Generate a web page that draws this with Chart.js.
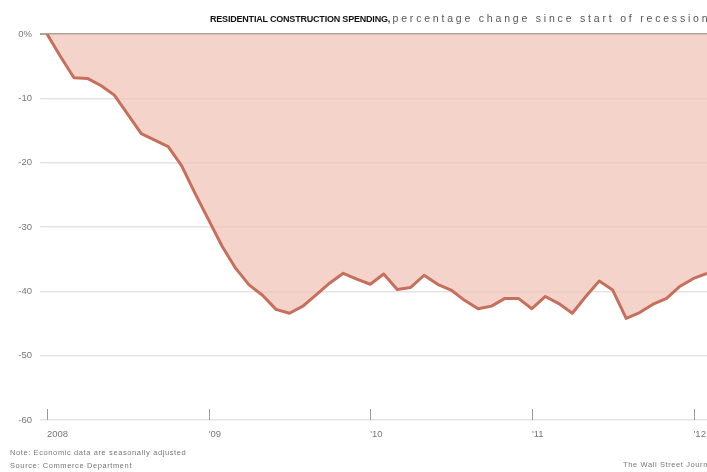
<!DOCTYPE html>
<html>
<head>
<meta charset="utf-8">
<script src="https://cdn.jsdelivr.net/npm/chart.js@4.4.0/dist/chart.umd.min.js"></script>
<style>
  html, body { margin: 0; padding: 0; background: #fff; }
  #wrap { position: relative; width: 707px; height: 472px; overflow: hidden; font-family: "Liberation Sans", Arial, sans-serif; }
  #chartBox { position: absolute; left: 0; top: 0; width: 707px; height: 472px; }
  .title { position: absolute; left: 210px; top: 12px; white-space: nowrap; font-size: 9px; color: #333; }
  .title b { color: #111; letter-spacing: -0.2px; }
  .title span { color: #555; letter-spacing: 2.8px; font-size: 10.5px; }
  .note { position: absolute; left: 10px; font-size: 7.5px; color: #777; white-space: nowrap; letter-spacing: 0.6px; }
  .credit { position: absolute; right: -8px; top: 460px; font-size: 7.5px; color: #777; white-space: nowrap; letter-spacing: 0.6px; }
</style>
</head>
<body>
<div id="wrap">
  <div id="chartBox"><canvas id="spendChart"></canvas></div>
  <div class="title"><b>RESIDENTIAL CONSTRUCTION SPENDING,</b> <span>percentage change since start of recession</span></div>
  <div class="note" style="top:448px">Note: Economic data are seasonally adjusted</div>
  <div class="note" style="top:461px">Source: Commerce Department</div>
  <div class="credit">The Wall Street Journal</div>
</div>
<script>
// tick labels for January of each year
var yearLabels = ['2008', "'09", "'10", "'11", "'12"]

// percentage change since start of recession, monthly from Jan 2008
var spending = [
  0, -3.5, -6.8, -6.9, -8.0, -9.5, -12.5, -15.5, -16.5, -17.5, -20.5, -24.8,
  -28.9, -33.0, -36.4, -39.0, -40.6, -42.8, -43.4, -42.3, -40.5, -38.7, -37.2, -38.1,
  -38.9, -37.3, -39.7, -39.4, -37.5, -38.9, -39.8, -41.4, -42.7, -42.3, -41.1, -41.1,
  -42.7, -40.8, -41.9, -43.4, -40.8, -38.4, -39.8, -44.2, -43.3, -42.0, -41.1, -39.2,
  -38.0, -37.2
]

var monthLabels = []
for (var i = 0; i < spending.length; i++) {
  monthLabels.push(i % 12 === 0 ? yearLabels[i / 12] : '')
}

const lineColor = '#c66f5c'
const fillColor = 'rgba(240, 196, 182, 0.72)'

// little year ticks that rise from the bottom line
var yearTicks = {
  id: 'yearTicks',
  afterDatasetsDraw: function(chart) {
    var ctx = chart.ctx
    var x = chart.scales.x
    var bottom = chart.chartArea.bottom
    ctx.save()
    ctx.strokeStyle = '#999'
    ctx.lineWidth = 1
    for (var i = 0; i < monthLabels.length; i += 12) {
      var px = Math.round(x.getPixelForValue(i)) + 0.5
      ctx.beginPath()
      ctx.moveTo(px, bottom)
      ctx.lineTo(px, bottom - 11)
      ctx.stroke()
    }
    ctx.restore()
  }
}

var ctx1 = document.getElementById('spendChart')

var spendChart = new Chart(ctx1, {
  type: 'line',
  data: {
    labels: monthLabels,
    datasets: [{
      data: spending,
      borderColor: lineColor,
      backgroundColor: fillColor,
      borderWidth: 3,
      fill: 'origin',
      pointRadius: 0,
      tension: 0,
      borderJoinStyle: 'round'
    }]
  },
  options: {
    responsive: true,
    maintainAspectRatio: false,
    animation: false,
    layout: { padding: { top: 34, left: 0, right: 0, bottom: 0 } },
    plugins: {
      legend: { display: false },
      tooltip: { enabled: false }
    },
    scales: {
      x: {
        type: 'category',
        offset: false,
        grid: { display: false },
        border: { display: false },
        afterFit: function(scale) {
          scale.height = 52
          scale.paddingRight = 0
          scale.paddingLeft = 0
        },
        ticks: {
          autoSkip: false,
          maxRotation: 0,
          align: 'start',
          padding: 1,
          color: '#777',
          font: { family: 'Liberation Sans', size: 9.5 },
          callback: function(val, idx) {
            return idx % 12 === 0 ? yearLabels[idx / 12] : null
          }
        }
      },
      y: {
        min: -60,
        max: 0,
        afterFit: function(scale) { scale.width = 47 },
        border: { display: false },
        grid: {
          color: function(c) { return c.tick && c.tick.value === 0 ? '#a9a39f' : '#e4e4e4' },
          lineWidth: function(c) { return c.tick && c.tick.value === 0 ? 2 : 1.5 },
          tickLength: 7
        },
        ticks: {
          stepSize: 10,
          padding: 8,
          color: '#777',
          font: { family: 'Liberation Sans', size: 9.5 },
          callback: function(v) { return v === 0 ? '0%' : v }
        }
      }
    }
  },
  plugins: [yearTicks]
});
</script>
</body>
</html>
